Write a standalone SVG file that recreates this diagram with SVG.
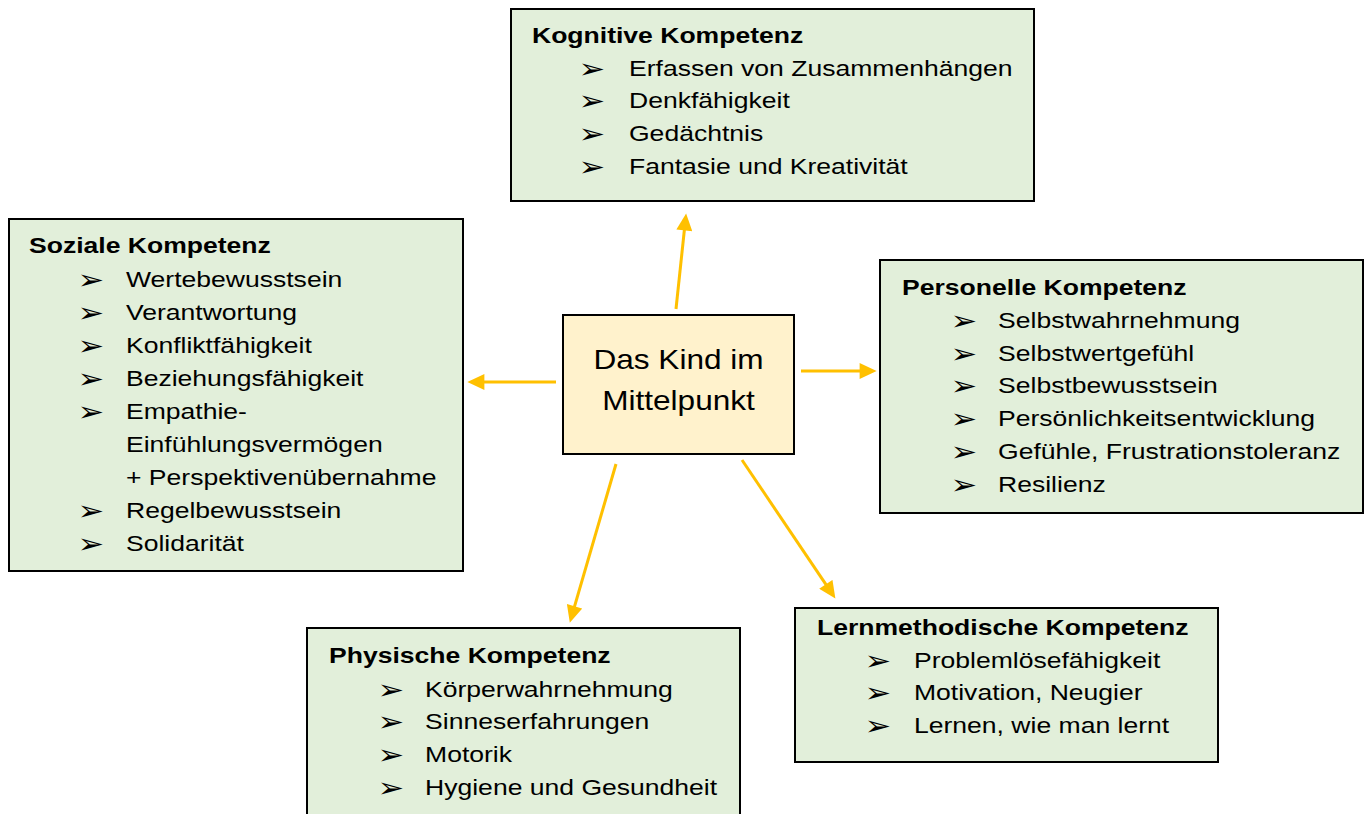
<svg xmlns="http://www.w3.org/2000/svg" width="1366" height="814" viewBox="0 0 1366 814">
<style>
.box{fill:#E2EFDA;stroke:#000;stroke-width:2}
.center{fill:#FFF2CC;stroke:#000;stroke-width:2}
.h{font-family:"Liberation Sans",Arial,sans-serif;font-weight:bold;font-size:22.5px;fill:#000}
.t{font-family:"Liberation Sans",Arial,sans-serif;font-size:22.5px;fill:#000}
.b{font-family:"DejaVu Sans",sans-serif;font-size:27px;fill:#000}
.c{font-family:"Liberation Sans",Arial,sans-serif;font-size:27px;fill:#000;text-anchor:middle}
.arr{stroke:#FFC000;stroke-width:3;fill:none;marker-end:url(#ah)}
</style>
<defs>
<marker id="ah" markerUnits="userSpaceOnUse" markerWidth="18" markerHeight="16" viewBox="0 0 16 15" refX="6" refY="7.5" orient="auto">
<path d="M0,0 L16,7.5 L0,15 z" fill="#FFC000"/>
</marker>
</defs>
<rect width="1366" height="814" fill="#fff"/>
<g id="connectors">
<line class="arr" x1="676" y1="309" x2="685" y2="224"/>
<line class="arr" x1="556" y1="382" x2="478" y2="382"/>
<line class="arr" x1="616" y1="464" x2="572.8" y2="612.4"/>
<line class="arr" x1="742" y1="460" x2="829.4" y2="589.7"/>
<line class="arr" x1="801" y1="371" x2="866" y2="371"/>
</g>
<g id="center">
<rect class="center" x="563" y="315" width="231" height="139"/>
<g transform="translate(678.5,0) scale(1.17,1)">
<text class="c" x="0" y="369">Das Kind im</text>
<text class="c" x="0" y="410">Mittelpunkt</text>
</g>
</g>
<g id="kognitive">
<rect class="box" x="511" y="9" width="523" height="192"/>
<g transform="translate(532,0) scale(1.18,1)">
<text class="h" x="0" y="43">Kognitive Kompetenz</text>
<text class="b" x="39.5" y="78">➢</text><text class="t" x="82.2" y="76">Erfassen von Zusammenhängen</text>
<text class="b" x="39.5" y="110.5">➢</text><text class="t" x="82.2" y="108.5">Denkfähigkeit</text>
<text class="b" x="39.5" y="143.5">➢</text><text class="t" x="82.2" y="141.5">Gedächtnis</text>
<text class="b" x="39.5" y="176">➢</text><text class="t" x="82.2" y="174">Fantasie und Kreativität</text>
</g>
</g>
<g id="soziale">
<rect class="box" x="9" y="219" width="454" height="352"/>
<g transform="translate(29,0) scale(1.18,1)">
<text class="h" x="0" y="253">Soziale Kompetenz</text>
<text class="b" x="41.2" y="289">➢</text><text class="t" x="82.2" y="287">Wertebewusstsein</text>
<text class="b" x="41.2" y="322">➢</text><text class="t" x="82.2" y="320">Verantwortung</text>
<text class="b" x="41.2" y="355">➢</text><text class="t" x="82.2" y="353">Konfliktfähigkeit</text>
<text class="b" x="41.2" y="388">➢</text><text class="t" x="82.2" y="386">Beziehungsfähigkeit</text>
<text class="b" x="41.2" y="421">➢</text><text class="t" x="82.2" y="419">Empathie-</text>
<text class="t" x="82.2" y="452">Einfühlungsvermögen</text>
<text class="t" x="82.2" y="485">+ Perspektivenübernahme</text>
<text class="b" x="41.2" y="520">➢</text><text class="t" x="82.2" y="518">Regelbewusstsein</text>
<text class="b" x="41.2" y="553">➢</text><text class="t" x="82.2" y="551">Solidarität</text>
</g>
</g>
<g id="personelle">
<rect class="box" x="880" y="260" width="483" height="253"/>
<g transform="translate(902,0) scale(1.18,1)">
<text class="h" x="0" y="295">Personelle Kompetenz</text>
<text class="b" x="41.2" y="330">➢</text><text class="t" x="81.4" y="328">Selbstwahrnehmung</text>
<text class="b" x="41.2" y="363">➢</text><text class="t" x="81.4" y="361">Selbstwertgefühl</text>
<text class="b" x="41.2" y="395.5">➢</text><text class="t" x="81.4" y="393.5">Selbstbewusstsein</text>
<text class="b" x="41.2" y="428.5">➢</text><text class="t" x="81.4" y="426.5">Persönlichkeitsentwicklung</text>
<text class="b" x="41.2" y="461">➢</text><text class="t" x="81.4" y="459">Gefühle, Frustrationstoleranz</text>
<text class="b" x="41.2" y="494">➢</text><text class="t" x="81.4" y="492">Resilienz</text>
</g>
</g>
<g id="physische">
<rect class="box" x="307" y="628" width="433" height="200"/>
<g transform="translate(329,0) scale(1.18,1)">
<text class="h" x="0" y="663">Physische Kompetenz</text>
<text class="b" x="41.2" y="699">➢</text><text class="t" x="81.4" y="697">Körperwahrnehmung</text>
<text class="b" x="41.2" y="731.5">➢</text><text class="t" x="81.4" y="729.5">Sinneserfahrungen</text>
<text class="b" x="41.2" y="764">➢</text><text class="t" x="81.4" y="762">Motorik</text>
<text class="b" x="41.2" y="797">➢</text><text class="t" x="81.4" y="795">Hygiene und Gesundheit</text>
</g>
</g>
<g id="lernmethodische">
<rect class="box" x="795" y="608" width="423" height="154"/>
<g transform="translate(817,0) scale(1.18,1)">
<text class="h" x="0" y="635">Lernmethodische Kompetenz</text>
<text class="b" x="40.3" y="670">➢</text><text class="t" x="82.2" y="668">Problemlösefähigkeit</text>
<text class="b" x="40.3" y="702.5">➢</text><text class="t" x="82.2" y="700.5">Motivation, Neugier</text>
<text class="b" x="40.3" y="735">➢</text><text class="t" x="82.2" y="733">Lernen, wie man lernt</text>
</g>
</g>
</svg>
